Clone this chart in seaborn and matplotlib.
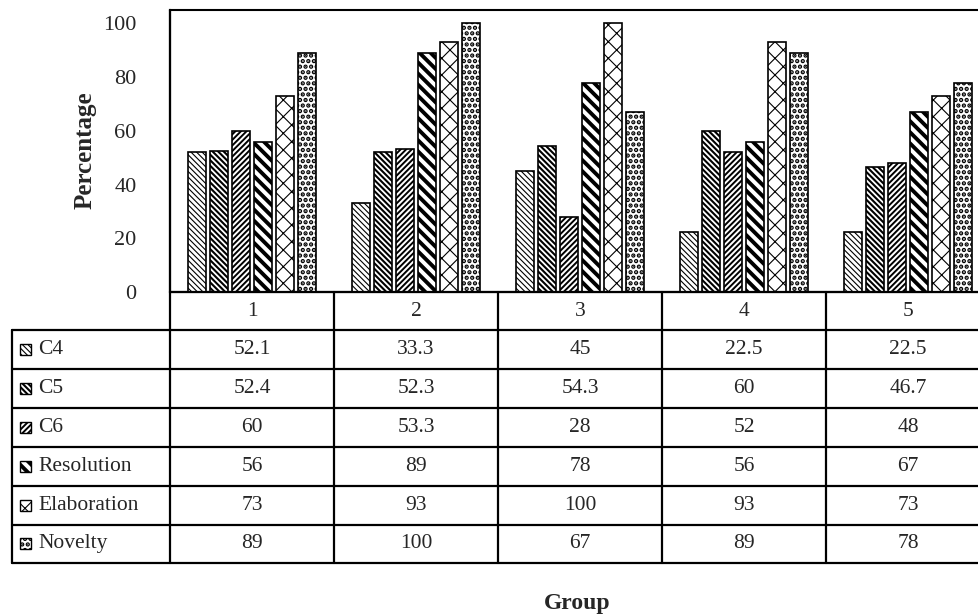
import pandas as pd
import matplotlib
matplotlib.use("Agg")
import matplotlib.pyplot as plt
from matplotlib.patches import Rectangle
import seaborn as sns

groups = ["1", "2", "3", "4", "5"]
criteria = ["C4", "C5", "C6", "Resolution", "Elaboration", "Novelty"]
c4 = [52.1, 33.3, 45, 22.5, 22.5]
c5 = [52.4, 52.3, 54.3, 60, 46.7]
c6 = [60, 53.3, 28, 52, 48]
resolution = [56, 89, 78, 56, 67]
elaboration = [73, 93, 100, 93, 73]
novelty = [89, 100, 67, 89, 78]

series = [c4, c5, c6, resolution, elaboration, novelty]
hatches = ["\\" * 6, "\\" * 6, "/" * 6, "\\" * 3, "xx", "..."]
hatch_lw = [0.8, 1.5, 1.4, 2.8, 0.8, 2.2]

rows = []
for name, vals in zip(criteria, series):
    for g, v in zip(groups, vals):
        rows.append({"Group": g, "Percentage": v, "Criterion": name})
df = pd.DataFrame(rows)

sns.set_style("white")
plt.rcParams["font.family"] = ["Liberation Serif", "DejaVu Serif"]
plt.rcParams["hatch.color"] = "black"
plt.rcParams["hatch.linewidth"] = 1.2

W, H = 979, 615
fig = plt.figure(figsize=(W / 100, H / 100), dpi=100)

plot_left, plot_right, plot_top, plot_bottom = 170, 990, 10, 292
ax = fig.add_axes([plot_left / W, 1 - plot_bottom / H,
                   (plot_right - plot_left) / W, (plot_bottom - plot_top) / H])

sns.barplot(data=df, x="Group", y="Percentage", hue="Criterion",
            palette=["white"] * 6, edgecolor="black", linewidth=1.2,
            width=0.805, gap=0.15, legend=False, ax=ax, zorder=3)

for cont, h, lw in zip(ax.containers, hatches, hatch_lw):
    for bar in cont:
        bar.set_hatch(h)
        if hasattr(bar, "set_hatch_linewidth"):
            bar.set_hatch_linewidth(lw)

ax.set_xlim(-0.5, 4.5)
ax.set_ylim(0, 105)
ax.set_yticks([0, 20, 40, 60, 80, 100])
ax.tick_params(axis="y", length=0, pad=24, labelsize=16)
ax.set_xticks([])
ax.set_xlabel("")
ax.set_ylabel("")
for s in ["left", "top", "bottom", "right"]:
    ax.spines[s].set_color("black")
    ax.spines[s].set_linewidth(1.5)

# data table drawn in pixel coordinates on an overlay
ov = fig.add_axes([0, 0, 1, 1])
ov.set_xlim(0, W)
ov.set_ylim(H, 0)
ov.axis("off")

col_w = (plot_right - plot_left) / len(groups)
row_edges = [292, 330, 369, 408, 447, 486, 524.5, 563]
table_left = 12
lw = 1.6

ov.plot([plot_left, plot_right], [row_edges[0]] * 2, color="black", lw=lw)
for y in row_edges[1:]:
    ov.plot([table_left, plot_right], [y, y], color="black", lw=lw)
ov.plot([table_left, table_left], [row_edges[1], row_edges[-1]], color="black", lw=lw)
ov.plot([plot_left, plot_left], [plot_top, row_edges[-1]], color="black", lw=lw)
for k in range(1, len(groups)):
    x = plot_left + k * col_w
    ov.plot([x, x], [row_edges[0], row_edges[-1]], color="black", lw=lw)

for i, g in enumerate(groups):
    ov.text(plot_left + (i + 0.5) * col_w, (row_edges[0] + row_edges[1]) / 2, g,
            ha="center", va="center", fontsize=15.5)

for r, (name, vals, h, hlw) in enumerate(zip(criteria, series, hatches, hatch_lw)):
    yc = (row_edges[r + 1] + row_edges[r + 2]) / 2
    key = Rectangle((20, yc - 5.5), 11, 11, facecolor="white", edgecolor="black",
                    lw=1.0, hatch=h)
    if hasattr(key, "set_hatch_linewidth"):
        key.set_hatch_linewidth(hlw)
    ov.add_patch(key)
    ov.text(38, yc, name, ha="left", va="center", fontsize=15.5)
    for i, v in enumerate(vals):
        ov.text(plot_left + (i + 0.5) * col_w, yc, f"{v:g}",
                ha="center", va="center", fontsize=15.5)

fig.text(85 / W, 1 - 150 / H, "Percentage", rotation=90, ha="center", va="center",
         fontsize=18, fontweight="bold")
fig.text(577 / W, 1 - 603 / H, "Group", ha="center", va="center",
         fontsize=17, fontweight="bold")

fig.savefig("out.png", dpi=100)
